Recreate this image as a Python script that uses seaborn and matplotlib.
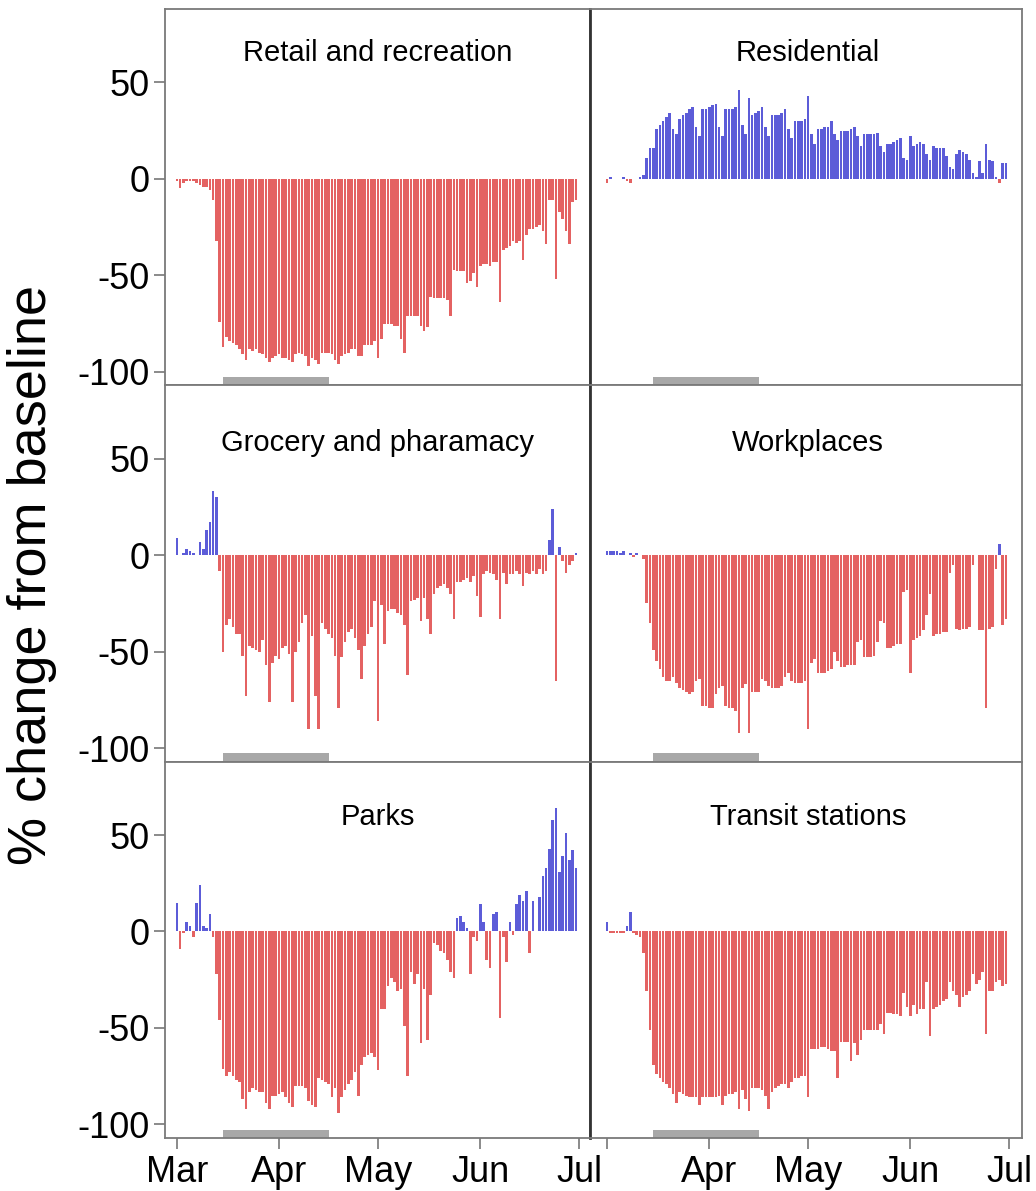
import numpy as np
import pandas as pd
import matplotlib
matplotlib.use("Agg")
import matplotlib.pyplot as plt
import matplotlib.transforms as mtransforms
import seaborn as sns

# daily % change from baseline, 1 Mar - 30 Jun
retail = [-1, -5, -2, -1, -1, -1, -2, -3, -4, -4, -6,
          -11, -32, -74, -87, -82, -84, -85, -86, -88, -91,
          -94, -88, -89, -88, -90, -91, -93, -95, -93, -92,
          -91, -93, -93, -94, -95, -91, -90, -91, -92, -97,
          -93, -94, -96, -90, -90, -90, -91, -94, -96, -92,
          -91, -90, -88, -88, -92, -92, -86, -86, -86, -84,
          -93, -83, -75, -75, -75, -76, -76, -83, -90, -71,
          -71, -71, -71, -76, -79, -77, -61, -62, -62, -62,
          -62, -63, -71, -47, -48, -48, -48, -54, -53, -49,
          -56, -45, -44, -44, -45, -43, -43, -64, -37, -36,
          -35, -32, -33, -32, -42, -29, -26, -26, -25, -24,
          -27, -34, -11, -11, -52, -17, -21, -27, -34, -12, -11]

residential = [-2, 1, 0, 0, 0, 1, -1, -2, 0, 0, 1,
               2, 11, 16, 16, 26, 28, 30, 32, 34, 26,
               23, 31, 33, 34, 36, 37, 27, 22, 36, 36,
               37, 38, 39, 27, 22, 36, 36, 36, 37, 46,
               28, 23, 42, 33, 34, 35, 37, 27, 22, 33,
               33, 33, 34, 36, 26, 21, 30, 30, 30, 31,
               43, 23, 18, 26, 26, 27, 27, 30, 23, 20,
               25, 25, 25, 26, 27, 22, 17, 23, 23, 23,
               23, 24, 17, 14, 18, 18, 19, 20, 21, 11,
               10, 22, 17, 18, 19, 18, 13, 10, 17, 16,
               16, 16, 12, 6, 5, 13, 15, 14, 13, 10,
               3, 1, 9, 3, 18, 10, 9, 1, -2, 8, 8]

grocery = [9, 0, 1, 3, 2, 1, 0, 7, 3, 13, 17,
           33, 30, -8, -50, -36, -33, -37, -41, -41, -52,
           -73, -47, -48, -49, -50, -44, -57, -76, -56, -52,
           -54, -48, -47, -51, -76, -50, -45, -35, -31, -90,
           -42, -73, -90, -35, -38, -41, -43, -52, -79, -53,
           -45, -40, -38, -43, -49, -64, -47, -41, -37, -24,
           -86, -26, -46, -29, -28, -28, -30, -31, -36, -62,
           -24, -23, -22, -34, -22, -33, -41, -20, -17, -16,
           -15, -17, -20, -33, -14, -14, -13, -12, -14, -11,
           -21, -32, -10, -8, -9, -10, -13, -33, -9, -15,
           -10, -10, -8, -10, -16, -9, -10, -8, -10, -7,
           -10, -8, 8, 24, -65, 4, -3, -9, -5, -3, 1]

workplaces = [2, 2, 2, 2, 1, 2, 0, 1, -1, 1, 0,
              -2, -25, -35, -49, -55, -59, -63, -65, -65, -63,
              -66, -69, -70, -71, -72, -71, -65, -64, -78, -78,
              -79, -79, -72, -69, -68, -78, -79, -79, -81, -92,
              -69, -67, -92, -71, -71, -71, -64, -65, -68, -69,
              -69, -69, -68, -63, -61, -65, -66, -66, -66, -65,
              -90, -56, -54, -61, -61, -61, -60, -59, -50, -55,
              -58, -58, -57, -57, -57, -45, -44, -53, -53, -53,
              -52, -45, -34, -35, -48, -48, -47, -46, -46, -19,
              -18, -61, -44, -43, -42, -39, -31, -20, -42, -41,
              -41, -40, -40, -9, -5, -38, -39, -38, -38, -37,
              -5, 0, -39, -39, -79, -38, -37, -7, 6, -36, -33]

parks = [15, -9, -1, 5, 3, -3, 15, 24, 3, 2, 9,
         -3, -22, -46, -71, -75, -73, -75, -77, -78, -87,
         -92, -83, -81, -82, -83, -83, -89, -92, -85, -85,
         -84, -83, -86, -89, -91, -80, -80, -80, -81, -88,
         -90, -91, -76, -77, -78, -79, -86, -81, -94, -86,
         -82, -79, -77, -73, -85, -69, -65, -64, -63, -65,
         -72, -40, -40, -28, -24, -26, -31, -30, -49, -75,
         -21, -27, -22, -58, -30, -56, -33, -6, -7, -10,
         -11, -15, -21, -24, 7, 8, 5, 2, -22, -3,
         -5, 14, 5, -15, -19, 9, 10, -45, -3, -16,
         5, -2, 14, 19, 16, 21, -11, 16, 0, 18,
         29, 33, 43, 58, 64, 31, 39, 51, 37, 42, 33]

transit = [5, -1, -1, -1, -1, -1, 3, 10, -1, -2, -3,
           -11, -31, -51, -69, -74, -76, -78, -79, -81, -84,
           -89, -83, -84, -85, -86, -86, -86, -90, -86, -86,
           -86, -86, -86, -85, -90, -85, -84, -84, -83, -92,
           -82, -87, -93, -81, -81, -81, -82, -85, -92, -83,
           -81, -80, -79, -79, -81, -78, -76, -76, -75, -75,
           -86, -61, -61, -61, -60, -60, -61, -62, -62, -76,
           -57, -57, -57, -67, -58, -64, -56, -51, -51, -51,
           -51, -51, -48, -53, -42, -42, -43, -43, -44, -32,
           -39, -44, -38, -43, -40, -40, -26, -54, -40, -39,
           -38, -36, -35, -26, -31, -33, -39, -34, -33, -31,
           -22, -27, -25, -21, -53, -31, -31, -26, -25, -28, -27]

panel_names = ["Retail and recreation", "Residential",
               "Grocery and pharamacy", "Workplaces",
               "Parks", "Transit stations"]
panel_values = [retail, residential, grocery, workplaces, parks, transit]

dates = pd.date_range("2020-03-01", "2020-06-30", freq="D")
month_labels = ["Mar", "Apr", "May", "Jun", "Jul"]
month_starts = pd.to_datetime(["2020-03-01", "2020-04-01", "2020-05-01",
                               "2020-06-01", "2020-07-01"])
lockdown = pd.to_datetime(["2020-03-15", "2020-04-16"])

start = dates[0]
day = np.asarray((dates - start).days)
tick_pos = [(m - start).days for m in month_starts]
lock_pos = [(d - start).days for d in lockdown]

frames = []
for name, vals in zip(panel_names, panel_values):
    v = np.array(vals, dtype=float)
    frames.append(pd.DataFrame({"panel": name, "day": day, "change": v,
                                "sign": np.where(v >= 0, "pos", "neg")}))
df = pd.concat(frames, ignore_index=True)

sns.set_style("white")
plt.rcParams["font.family"] = ["Liberation Sans", "DejaVu Sans"]
plt.rcParams["text.color"] = "black"
plt.rcParams["xtick.labelcolor"] = "black"
plt.rcParams["ytick.labelcolor"] = "black"

fig, axes = plt.subplots(3, 2, figsize=(10.36, 11.91), dpi=100,
                         gridspec_kw={"width_ratios": [425, 432]})
fig.subplots_adjust(left=165 / 1036, right=1022 / 1036, top=1 - 9 / 1191,
                    bottom=1 - 1138 / 1191, wspace=0, hspace=0)

palette = {"neg": "#E46262", "pos": "#5C5CD8"}
title_y = [61, 61, 54, 54, 55, 55]

for i, (ax, name) in enumerate(zip(axes.flat, panel_names)):
    sub = df[df["panel"] == name]
    sns.barplot(data=sub, x="day", y="change", hue="sign", palette=palette,
                native_scale=True, dodge=False, width=0.8, saturation=1,
                errorbar=None, legend=False, linewidth=0, ax=ax)

    col = i % 2
    ax.set_ylim(-107, 88)
    ax.set_xlim((-3.6, 125.3) if col == 0 else (-5.2, 125.9))
    ax.fill_between(lock_pos, -107, -102.6, color="#A8A8A8", linewidth=0)

    ax.set_xticks(tick_pos)
    if i >= 4:
        labels = month_labels if col == 0 else [""] + month_labels[1:]
        ax.set_xticklabels(labels, fontsize=26)
    else:
        ax.set_xticklabels([])
    if col == 0:
        ax.set_yticks([-100, -50, 0, 50])
        ax.set_yticklabels(["-100", "-50", "0", "50"], fontsize=26)
        ax.tick_params(axis="y", direction="out", length=8, width=1.2,
                       color="#777777", left=True, pad=3)
    else:
        ax.set_yticks([])
    ax.tick_params(axis="x", direction="out", length=8, width=1.2,
                   color="#777777", bottom=True, pad=4)
    ax.set_xlabel("")
    ax.set_ylabel("")

    for s in ax.spines.values():
        s.set_color("#7a7a7a")
        s.set_linewidth(1.3)
    if col == 1:
        ax.spines["left"].set_color("#333333")
        ax.spines["left"].set_linewidth(2)

    trans = mtransforms.blended_transform_factory(ax.transData, ax.transData)
    ax.text(61, title_y[i], name, transform=trans, ha="center",
            va="baseline", fontsize=21, color="black")

fig.text(0.031, 0.517, "% change from baseline", rotation=90,
         ha="center", va="center", fontsize=39, color="black")

fig.savefig("out.png", dpi=100)
